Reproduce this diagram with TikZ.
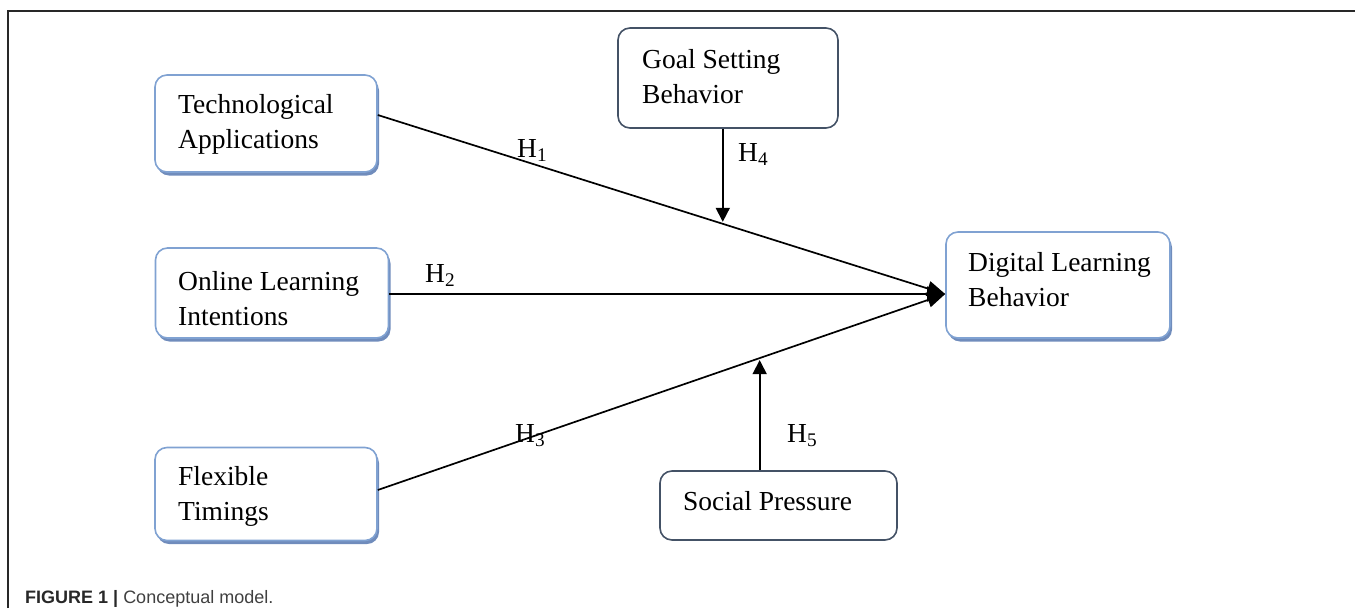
\documentclass[tikz,border=0pt]{standalone}
\usepackage{fontspec}
\setmainfont{Liberation Serif}
\newfontfamily\capfont{Liberation Sans}
\usetikzlibrary{arrows.meta,calc,shadows}
\definecolor{boxblue}{RGB}{128,162,210}
\definecolor{shadowblue}{RGB}{112,140,188}
\definecolor{darkframe}{RGB}{68,82,102}
\definecolor{framegray}{RGB}{40,40,40}
\definecolor{capgray}{RGB}{64,64,64}
\tikzset{
  bluebox/.style={draw=boxblue, line width=1.6pt, rounded corners=12pt, fill=white, inner sep=0pt,
    drop shadow={shadow xshift=2pt, shadow yshift=-3.5pt, fill=shadowblue, opacity=1}},
  darkbox/.style={draw=darkframe, line width=1.6pt, rounded corners=12pt, fill=white, inner sep=0pt},
  boxtext/.style={anchor=base west, inner sep=0pt, font=\fontsize{27.5}{35}\selectfont},
  hlabel/.style={anchor=base west, inner sep=0pt, font=\fontsize{27.5}{35}\selectfont},
  conn/.style={line width=1.7pt, draw=black},
  mainarrow/.style={conn, -{Triangle[length=18pt,width=15pt]}},
  modarrow/.style={conn, -{Triangle[length=14pt,width=14pt]}},
  frameline/.style={line width=1.5pt, draw=framegray}
}
\newcommand{\twolines}[2]{\begin{tabular}[t]{@{}l@{}}#1\\#2\end{tabular}}
\begin{document}
\begin{tikzpicture}[x=1pt,y=-1pt]
\useasboundingbox (0,0) rectangle (1355,608);
% frame
\draw[frameline] (8,608) -- (8,11) -- (1355,11);
% boxes
\node[bluebox, minimum width=222pt, minimum height=97pt] (tech) at (266,123.5) {};
\node[bluebox, minimum width=233pt, minimum height=90pt] (oli) at (272,293) {};
\node[bluebox, minimum width=222pt, minimum height=93pt] (ft) at (266,494) {};
\node[darkbox, minimum width=220pt, minimum height=100pt] (goal) at (728,78) {};
\node[darkbox, minimum width=237pt, minimum height=69pt] (social) at (778.5,505.5) {};
\node[bluebox, minimum width=224pt, minimum height=106pt] (dlb) at (1058,285) {};
% texts
\node[boxtext] (techtext) at (178,113) {\twolines{Technological}{Applications}};
\node[boxtext] (olitext) at (178,290) {\twolines{Online Learning}{Intentions}};
\node[boxtext] (fttext) at (178,485) {\twolines{Flexible}{Timings}};
\node[boxtext] (goaltext) at (642,68) {\twolines{Goal Setting}{Behavior}};
\node[boxtext] (socialtext) at (683,510) {Social Pressure};
\node[boxtext] (dlbtext) at (968,271) {\twolines{Digital Learning}{Behavior}};
% connectors
\coordinate (tip) at ($(dlb.west)+(0,9)$);
\coordinate (s1) at ($(tech.east)+(0,-8.5)$);
\coordinate (s2) at ($(oli.east)+(0,1)$);
\coordinate (s3) at ($(ft.east)+(0,-4)$);
\draw[mainarrow] (s1) -- (tip);
\draw[mainarrow] (s2) -- (tip);
\draw[mainarrow] (s3) -- (tip);
\coordinate (m1) at ($(s1)!0.608!(tip)$);
\coordinate (m3) at ($(s3)!0.673!(tip)$);
\draw[modarrow, shorten >=2pt] (goal.south -| m1) -- (m1);
\draw[modarrow, shorten >=2pt] (social.north -| m3) -- (m3);
% labels
\node[hlabel] (h1) at (517,157) {H\textsubscript{1}};
\node[hlabel] (h2) at (425,282) {H\textsubscript{2}};
\node[hlabel] (h3) at (515,442) {H\textsubscript{3}};
\node[hlabel] (h4) at (738,161) {H\textsubscript{4}};
\node[hlabel] (h5) at (787,442) {H\textsubscript{5}};
% caption
\node[anchor=base west, inner sep=0pt, font=\capfont\fontsize{18}{20}\selectfont] (cap) at (25,603)
  {\textcolor{framegray}{\bfseries FIGURE 1 |} \textcolor{capgray}{Conceptual model.}};
\end{tikzpicture}
\end{document}
